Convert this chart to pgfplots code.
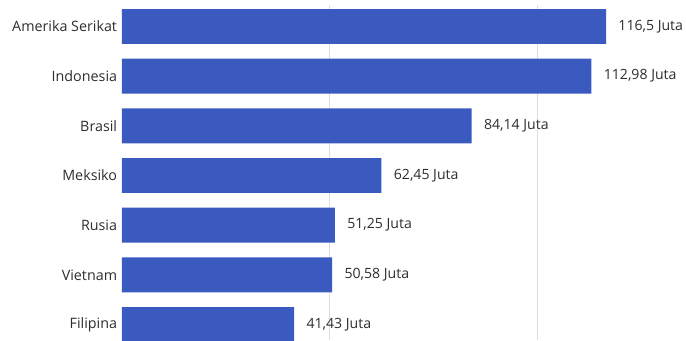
\documentclass[border=0pt]{standalone}
\usepackage{pgfplots}
\pgfplotsset{compat=1.18}
\usepackage{fontspec}
\setmainfont{Open Sans}
\definecolor{barblue}{RGB}{58,90,192}
\definecolor{lbl}{RGB}{45,45,45}
\definecolor{gridc}{RGB}{222,222,222}
\begin{document}
\begin{tikzpicture}
\begin{axis}[
  scale only axis, width=282pt, height=167.5pt,
  xmin=0, xmax=135.74, ymin=-0.433, ymax=6.312, y dir=reverse,
  xbar, bar width=0.704,
  axis line style={draw=none}, tick style={draw=none},
  xtick={50,100}, xticklabels={},
  xmajorgrids, major grid style={draw=gridc, line width=0.5pt},
  ytick={0,1,2,3,4,5,6},
  yticklabels={Amerika Serikat,Indonesia,Brasil,Meksiko,Rusia,Vietnam,Filipina},
  yticklabel style={font=\fontsize{7.15}{8}\selectfont, text=lbl, inner sep=0pt, xshift=2pt},
  nodes near coords, point meta=explicit symbolic,
  every node near coord/.append style={font=\fontsize{7.05}{8}\selectfont, text=lbl, anchor=west, inner sep=0pt, xshift=6pt},
]
\addplot[fill=barblue, draw=none] coordinates {
  (116.5,0) [116,5 Juta]
  (112.98,1) [112,98 Juta]
  (84.14,2) [84,14 Juta]
  (62.45,3) [62,45 Juta]
  (51.25,4) [51,25 Juta]
  (50.58,5) [50,58 Juta]
  (41.43,6) [41,43 Juta]
};
\end{axis}
\pgfresetboundingbox
\useasboundingbox ([xshift=-61pt]current axis.south west) rectangle ([yshift=2.5pt]current axis.north east);
\end{tikzpicture}
\end{document}
